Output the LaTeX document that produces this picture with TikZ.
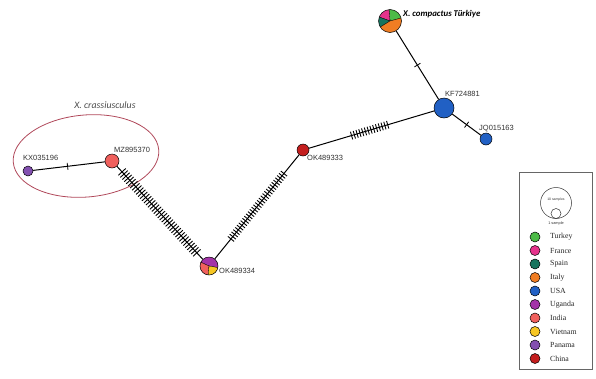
\documentclass[tikz,border=0pt]{standalone}
\usepackage{fontspec}
\setmainfont{Liberation Sans}
\newfontfamily\carl{Carlito}
\newfontfamily\legfont{Liberation Serif}
\usetikzlibrary{decorations.markings}
\definecolor{cTurkey}{HTML}{4CBB47}
\definecolor{cFrance}{HTML}{E5338C}
\definecolor{cSpain}{HTML}{17745E}
\definecolor{cItaly}{HTML}{F07D23}
\definecolor{cUSA}{HTML}{2160C4}
\definecolor{cUganda}{HTML}{A333A8}
\definecolor{cIndia}{HTML}{F0605D}
\definecolor{cVietnam}{HTML}{F6C623}
\definecolor{cPanama}{HTML}{8350B0}
\definecolor{cChina}{HTML}{C41E1E}
\definecolor{crass}{HTML}{B0485A}
\begin{document}
\begin{tikzpicture}[x=1pt,y=1pt,
  hap/.style={circle, draw=black, line width=0.5pt, inner sep=0pt, minimum size=#1},
  lbl/.style={font=\fontsize{7.5}{8}\selectfont, text=black!80, inner sep=0pt, anchor=west},
  legtxt/.style={font=\legfont\fontsize{7.8}{9}\selectfont, text=black!85, inner sep=0pt, anchor=west},
  edge/.style={line width=1pt, black},
  onetick/.style={postaction={decorate, decoration={markings, mark=at position #1 with {\draw[line width=0.8pt] (0,-3.5pt)--(0,3.5pt);}}}},
  hatch/.style n args={3}{postaction={decorate, decoration={markings, mark=between positions #1 and #2 step 2.9pt with {\draw[line width=0.9pt] (0,-#3)--(0,#3);}}}},
  slice/.style={draw=black, line width=0.3pt}
]
\useasboundingbox (0,0) rectangle (596,-378);

% haplotype nodes
\node[hap=23pt, path picture={
  \coordinate (c) at (path picture bounding box.center);
  \fill[cTurkey, slice] (c) -- ++(15:13pt) arc[start angle=15, end angle=95, radius=13pt] -- cycle;
  \fill[cFrance, slice] (c) -- ++(95:13pt) arc[start angle=95, end angle=160, radius=13pt] -- cycle;
  \fill[cSpain, slice] (c) -- ++(160:13pt) arc[start angle=160, end angle=212, radius=13pt] -- cycle;
  \fill[cItaly, slice] (c) -- ++(212:13pt) arc[start angle=212, end angle=375, radius=13pt] -- cycle;
}] (tur) at (390,-21) {};
\node[hap=20pt, fill=cUSA] (kf) at (444,-108) {};
\node[hap=12pt, fill=cUSA] (jq) at (486,-139) {};
\node[hap=12pt, fill=cChina] (o333) at (303,-150) {};
\node[hap=18pt, path picture={
  \coordinate (c) at (path picture bounding box.center);
  \fill[cUganda, slice] (c) -- ++(-10:10pt) arc[start angle=-10, end angle=155, radius=10pt] -- cycle;
  \fill[cIndia, slice] (c) -- ++(155:10pt) arc[start angle=155, end angle=265, radius=10pt] -- cycle;
  \fill[cVietnam, slice] (c) -- ++(265:10pt) arc[start angle=265, end angle=350, radius=10pt] -- cycle;
}] (o334) at (209,-266) {};
\node[hap=14pt, fill=cIndia] (mz) at (112,-161) {};
\node[hap=10pt, fill=cPanama] (kx) at (28,-171) {};

% clade ellipse
\draw[crass, line width=0.8pt, rotate around={5:(86,-156)}] (86,-156) ellipse [x radius=73, y radius=41];

% connectors
\draw[edge, onetick=0.5] (tur) -- (kf);
\draw[edge, onetick=0.5] (kf) -- (jq);
\draw[edge, hatch={0.34}{0.64}{4pt}] (o333) -- (kf);
\draw[edge, hatch={0.18}{0.83}{4pt}] (o333) -- (o334);
\draw[edge, hatch={0.06}{0.95}{5pt}] (mz) -- (o334);
\draw[edge, onetick=0.48] (kx) -- (mz);

% labels
\node[lbl] (lkf) at (445,-94) {KF724881};
\node[lbl] (ljq) at (479,-129) {JQ015163};
\node[lbl] (l333) at (307,-158) {OK489333};
\node[lbl] (l334) at (219,-271) {OK489334};
\node[lbl] (lmz) at (114,-150) {MZ895370};
\node[lbl] (lkx) at (23,-158) {KX035196};
\node[inner sep=0pt, anchor=west, font=\carl\bfseries\itshape\fontsize{8.8}{10}\selectfont] (ltur) at (403,-14) {X. compactus Türkiye};
\node[inner sep=0pt, text=black!70, font=\carl\itshape\fontsize{9.8}{11}\selectfont] (lcrass) at (105,-105) {X. crassiusculus};

% legend
\node[draw=black!60, line width=0.8pt, minimum width=73pt, minimum height=197pt, inner sep=0pt] (legbox) at (555.5,-270.5) {};
\node[circle, draw=black!80, line width=0.5pt, minimum size=31pt, inner sep=0pt] (big) at (556,-203) {};
\node[circle, draw=black!80, line width=0.5pt, minimum size=10pt, inner sep=0pt, anchor=south] (small) at (big.south) {};
\node[inner sep=0pt, font=\fontsize{3.4}{4}\selectfont, text=black!80] (l10) at (556,-200) {10 samples};
\node[inner sep=0pt, font=\fontsize{3.8}{4}\selectfont, text=black!80] (l1) at (556,-224) {1 sample};
\foreach \c/\t [count=\i from 0] in {cTurkey/Turkey, cFrance/France, cSpain/Spain, cItaly/Italy, cUSA/USA, cUganda/Uganda, cIndia/India, cVietnam/Vietnam, cPanama/Panama, cChina/China} {
  \node[hap=10pt, fill=\c] (lg\i) at (535,-237-13.5*\i) {};
  \node[legtxt] (lt\i) at (550,-237-13.5*\i) {\t};
}
\end{tikzpicture}
\end{document}
